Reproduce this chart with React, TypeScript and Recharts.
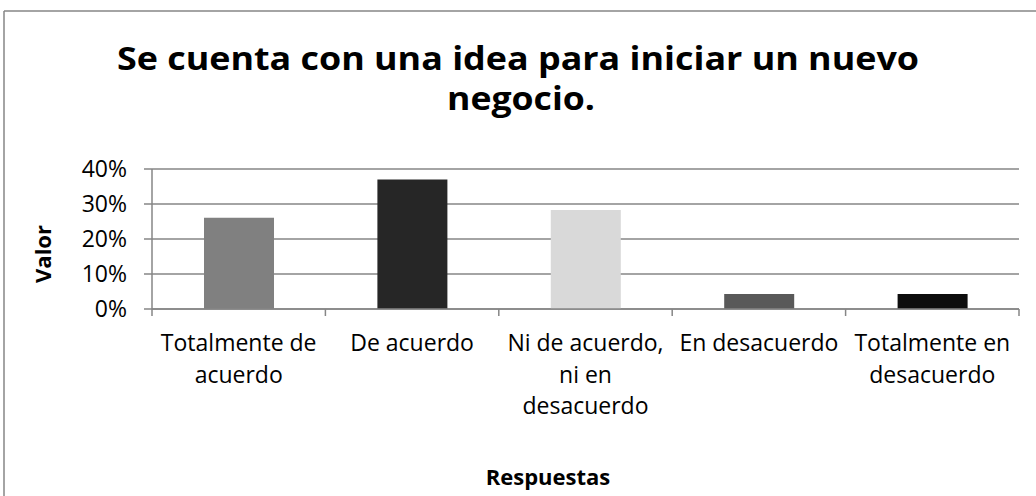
import React from 'react';
import { BarChart, Bar, XAxis, YAxis, CartesianGrid, Cell } from 'recharts';

// ---- data ----
const categories = [
  'Totalmente de acuerdo',
  'De acuerdo',
  'Ni de acuerdo, ni en desacuerdo',
  'En desacuerdo',
  'Totalmente en desacuerdo',
];
const categoryLines = [
  ['Totalmente de', 'acuerdo'],
  ['De acuerdo'],
  ['Ni de acuerdo,', 'ni en', 'desacuerdo'],
  ['En desacuerdo'],
  ['Totalmente en', 'desacuerdo'],
];
const values = [0.261, 0.37, 0.283, 0.043, 0.043];
const barColors = ['#808080', '#262626', '#d9d9d9', '#595959', '#0d0d0d'];
const yTicks = [0, 0.1, 0.2, 0.3, 0.4];

const chartData = categories.map((name, i) => ({ name, value: values[i] }));

const FONT = "'Open Sans', sans-serif";
const GRID = '#868686';
const TICK_SIZE = 7;

// label lines + the little separator ticks between categories (Excel style)
const CategoryTick = ({ x, y, index, width, visibleTicksCount }: any) => {
  const lines = categoryLines[index] || [];
  const band = width && visibleTicksCount ? width / visibleTicksCount : 0;
  const axisY = y - TICK_SIZE - 2;
  return (
    <g>
      {band > 0 && index === 0 && (
        <line
          x1={x - band / 2}
          x2={x - band / 2}
          y1={axisY}
          y2={axisY + TICK_SIZE}
          stroke={GRID}
          strokeWidth={1.5}
        />
      )}
      {band > 0 && (
        <line
          x1={x + band / 2}
          x2={x + band / 2}
          y1={axisY}
          y2={axisY + TICK_SIZE}
          stroke={GRID}
          strokeWidth={1.5}
        />
      )}
      <text x={x} y={axisY} textAnchor="middle" fontFamily={FONT} fontSize={23} fill="#000">
        {lines.map((l, i) => (
          <tspan key={i} x={x} dy={i === 0 ? 42 : 31.5}>
            {l}
          </tspan>
        ))}
      </text>
    </g>
  );
};

export default function App() {
  return (
    <div
      style={{
        position: 'absolute',
        left: 0,
        top: 0,
        width: 1036,
        height: 496,
        background: '#fff',
        overflow: 'hidden',
      }}
    >
      <BarChart
        width={1036}
        height={496}
        data={chartData}
        margin={{ top: 169, right: 17, left: 0, bottom: 76 }}
      >
        <CartesianGrid vertical={false} stroke={GRID} strokeWidth={1.5} />
        <XAxis
          dataKey="name"
          height={111}
          tickSize={TICK_SIZE}
          tickMargin={2}
          axisLine={{ stroke: GRID, strokeWidth: 1.5 }}
          tickLine={false}
          interval={0}
          tick={<CategoryTick />}
        />
        <YAxis
          domain={[0, 0.4]}
          ticks={yTicks}
          width={152}
          tickSize={8}
          tickMargin={17}
          axisLine={{ stroke: GRID, strokeWidth: 1.5 }}
          tickLine={{ stroke: GRID, strokeWidth: 1.5 }}
          tick={{ fontFamily: FONT, fontSize: 23, fill: '#000' }}
          tickFormatter={(v: number) => `${Math.round(v * 100)}%`}
        />
        <Bar dataKey="value" barSize={70} isAnimationActive={false}>
          {chartData.map((_, i) => (
            <Cell key={i} fill={barColors[i]} />
          ))}
        </Bar>
      </BarChart>

      {/* title, axis titles, frame */}
      <svg
        width={1036}
        height={496}
        style={{ position: 'absolute', left: 0, top: 0, pointerEvents: 'none' }}
      >
        <line x1={4} y1={11} x2={1036} y2={11} stroke={GRID} strokeWidth={1.5} />
        <line x1={4} y1={11} x2={4} y2={496} stroke={GRID} strokeWidth={1.5} />
        <text
          x={518}
          y={70}
          textAnchor="middle"
          fontFamily={FONT}
          fontWeight={700}
          fontSize={33}
          fill="#000"
          textLength={802}
          lengthAdjust="spacingAndGlyphs"
        >
          Se cuenta con una idea para iniciar un nuevo
        </text>
        <text
          x={521}
          y={110}
          textAnchor="middle"
          fontFamily={FONT}
          fontWeight={700}
          fontSize={33}
          fill="#000"
          textLength={148}
          lengthAdjust="spacingAndGlyphs"
        >
          negocio.
        </text>
        <text
          x={0}
          y={0}
          transform="translate(51,254) rotate(-90)"
          textAnchor="middle"
          fontFamily={FONT}
          fontWeight={700}
          fontSize={22}
          fill="#000"
        >
          Valor
        </text>
        <text
          x={548}
          y={485}
          textAnchor="middle"
          fontFamily={FONT}
          fontWeight={700}
          fontSize={22}
          fill="#000"
        >
          Respuestas
        </text>
      </svg>
    </div>
  );
}
